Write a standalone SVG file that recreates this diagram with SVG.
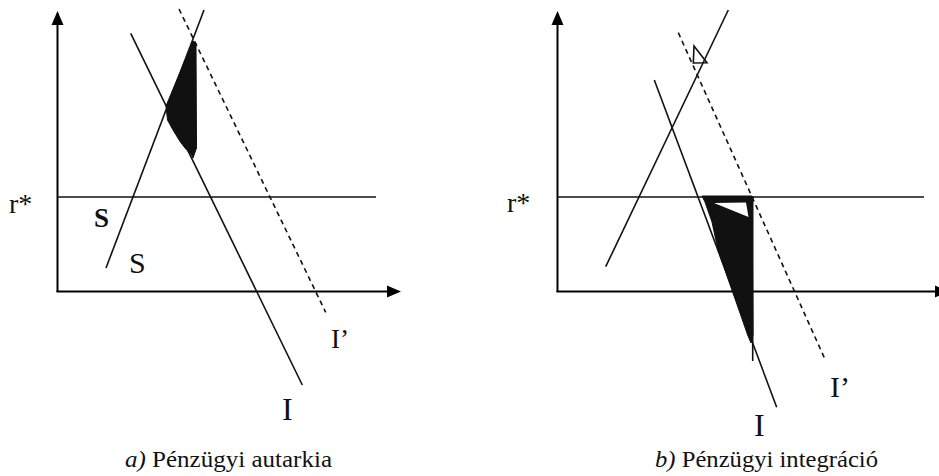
<svg xmlns="http://www.w3.org/2000/svg" width="939" height="476" viewBox="0 0 939 476">
<style>
.ax{stroke:#000;stroke-width:2;fill:none}
.ln{stroke:#111;stroke-width:1.6;fill:none}
.ds{stroke:#111;stroke-width:1.6;fill:none;stroke-dasharray:5 4}
.sh{fill:#111;stroke:#111;stroke-width:1}
.hd{fill:#000}
text{fill:#111}
</style>
<rect width="939" height="476" fill="#fff"/>
<g id="panel-a">
  <g id="axes-a">
    <line class="ax" x1="57.5" y1="292" x2="57.5" y2="22"/>
    <polygon class="hd" points="57.5,11 51.5,25 63.5,25"/>
    <line class="ax" x1="56.5" y1="291.5" x2="390" y2="291.5"/>
    <polygon class="hd" points="401,291.5 387,285.5 387,297.5"/>
  </g>
  <g id="shade-a">
    <polygon class="sh" points="193,41 196,43 196.5,148 193,158 191.5,155 185,148 180,141.5 173,130 167.5,120 166,106"/>
  </g>
  <g id="curves-a">
    <line class="ln" x1="57" y1="197" x2="376" y2="197"/>
    <line class="ln" x1="106" y1="268" x2="204" y2="10"/>
    <line class="ln" x1="130.7" y1="33.3" x2="302.3" y2="385"/>
    <line class="ds" x1="179" y1="9" x2="325.7" y2="312.3"/>
  </g>
  <g id="labels-a" font-family="Liberation Serif, DejaVu Serif, serif">
    <text x="9" y="213" font-size="28">r*</text>
    <text x="94" y="227" font-size="27" font-weight="bold">S</text>
    <text x="129" y="273" font-size="30">S</text>
    <text x="331" y="348" font-size="27">I’</text>
    <text x="282" y="420" font-size="32">I</text>
    <text x="125" y="467" font-size="23" textLength="207" lengthAdjust="spacingAndGlyphs"><tspan font-style="italic">a)</tspan> Pénzügyi autarkia</text>
  </g>
</g>
<g id="panel-b">
  <g id="axes-b">
    <line class="ax" x1="557.5" y1="292" x2="557.5" y2="22"/>
    <polygon class="hd" points="557.5,11 551.5,25 563.5,25"/>
    <line class="ax" x1="556.5" y1="291.5" x2="940" y2="291.5"/>
    <polygon class="hd" points="948,291.5 935,285.5 935,297.5"/>
  </g>
  <g id="shade-b">
    <polygon class="sh" points="702,196 752,196 753,335 751,343 748,336 718,250 712,222 705,202"/>
    <polygon fill="#fff" points="714,203 746,202.5 748.5,217"/>
  </g>
  <g id="curves-b">
    <line class="ln" x1="557" y1="197" x2="924" y2="197"/>
    <line class="ln" x1="605.7" y1="266.7" x2="728.3" y2="10"/>
    <line class="ln" x1="654.3" y1="80" x2="776.7" y2="407.3"/>
    <line class="ds" x1="678.3" y1="32.7" x2="825" y2="359.3"/>
    <line class="ln" x1="752.7" y1="196" x2="752.7" y2="361"/>
    <polygon class="ln" points="694,46 693.3,63 707,62.7"/>
  </g>
  <g id="labels-b" font-family="Liberation Serif, DejaVu Serif, serif">
    <text x="507" y="212" font-size="28">r*</text>
    <text x="830" y="397" font-size="30">I’</text>
    <text x="754" y="436" font-size="32">I</text>
    <text x="655" y="467" font-size="23" textLength="223" lengthAdjust="spacingAndGlyphs"><tspan font-style="italic">b)</tspan> Pénzügyi integráció</text>
  </g>
</g>
</svg>
